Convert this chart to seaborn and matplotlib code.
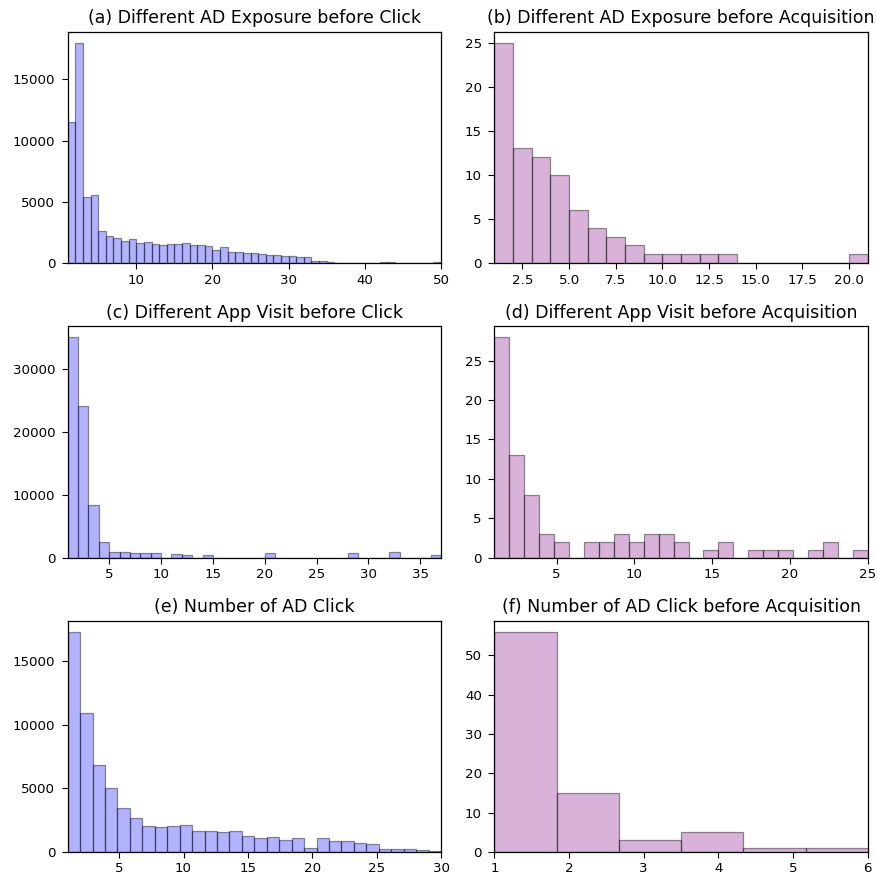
import numpy as np
import pandas as pd
import matplotlib
matplotlib.use("Agg")
import matplotlib.pyplot as plt
from matplotlib.ticker import MultipleLocator
import seaborn as sns

# ---- data (bin counts) ----
titles = [
    "(a) Different AD Exposure before Click",
    "(b) Different AD Exposure before Acquisition",
    "(c) Different App Visit before Click",
    "(d) Different App Visit before Acquisition",
    "(e) Number of AD Click",
    "(f) Number of AD Click before Acquisition",
]

# bin ranges: (low, high, number of bins)
range_a = (1, 50, 49)
range_b = (1, 21, 20)
range_c = (1, 37, 36)
range_d = (1, 25, 25)
range_e = (1, 30, 30)
range_f = (1, 6, 6)

counts_a = [11500, 18000, 5400, 5600, 2650, 2230, 2060, 1790, 1980, 1630,
            1710, 1550, 1440, 1600, 1600, 1680, 1440, 1440, 1360, 1110,
            1280, 920, 920, 840, 840, 760, 680, 650, 600, 600,
            520, 490, 160, 160, 80, 50, 50, 50, 50, 50,
            30, 60, 60, 0, 20, 50, 0, 0, 60]
counts_b = [25, 13, 12, 10, 6, 4, 3, 2, 1, 1, 1, 1, 1, 0, 0, 0, 0, 0, 0, 1]
counts_c = [35000, 24000, 8360, 2540, 850, 850, 700, 700, 700, 0,
            530, 370, 0, 370, 0, 0, 0, 0, 0, 690,
            0, 0, 0, 0, 0, 0, 0, 690, 0, 0,
            0, 850, 0, 0, 0, 370]
counts_d = [28, 13, 8, 3, 2, 0, 2, 2, 3, 2, 3, 3, 2, 0, 1, 2, 0, 1, 1, 1,
            0, 1, 2, 0, 1]
counts_e = [17300, 10900, 6800, 5050, 3450, 2650, 2050, 1950, 2050, 2150,
            1650, 1650, 1550, 1650, 1250, 1100, 1150, 950, 1100, 350,
            1100, 850, 850, 700, 600, 250, 250, 250, 150, 50]
counts_f = [56, 15, 3, 5, 1, 1]

# tick steps (x, y) per panel
steps_a = (10, 5000)
steps_b = (2.5, 5)
steps_c = (5, 10000)
steps_d = (5, 5)
steps_e = (5, 5000)
steps_f = (1, 10)

panels = [
    (range_a, counts_a, "blue", steps_a),
    (range_b, counts_b, "purple", steps_b),
    (range_c, counts_c, "blue", steps_c),
    (range_d, counts_d, "purple", steps_d),
    (range_e, counts_e, "blue", steps_e),
    (range_f, counts_f, "purple", steps_f),
]

plt.rcParams["font.family"] = ["DejaVu Sans"]

fig, axes = plt.subplots(3, 2, figsize=(8.78, 8.77), dpi=100)
fig.subplots_adjust(left=0.0771, right=0.9883, top=0.9639, bottom=0.0285,
                    wspace=0.143, hspace=0.272)

for ax, title, (rng, counts, col, steps) in zip(axes.flat, titles, panels):
    lo, hi, nb = rng
    edges = np.linspace(lo, hi, nb + 1)
    centers = (edges[:-1] + edges[1:]) / 2
    df = pd.DataFrame({"value": centers, "count": counts})
    sns.histplot(data=df, x="value", weights="count",
                 bins=[float(e) for e in edges], ax=ax,
                 color=col, alpha=0.3, edgecolor=(0, 0, 0, 0.42),
                 linewidth=0.9)
    ax.set_xlim(lo, hi)
    ax.xaxis.set_major_locator(MultipleLocator(steps[0]))
    ax.yaxis.set_major_locator(MultipleLocator(steps[1]))
    ax.set_xlabel("")
    ax.set_ylabel("")
    ax.set_title(title, fontsize=12.5)
    ax.tick_params(labelsize=9.6, length=4)
    ax.tick_params(axis="y", pad=5)
    for s in ax.spines.values():
        s.set_linewidth(0.9)

fig.savefig("out.png", dpi=100)
